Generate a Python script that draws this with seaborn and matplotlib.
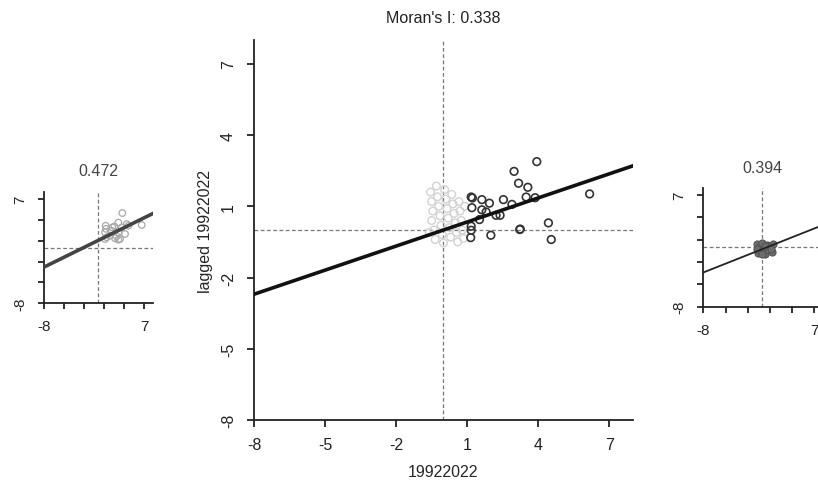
import matplotlib
matplotlib.use("Agg")
import matplotlib.pyplot as plt
import seaborn as sns
import pandas as pd

# ---------------- data ----------------
ticks = [-8, -5, -2, 1, 4, 7]
small_tick_labels = ["-8", "", "", "", "", "7"]

main_title = "Moran's I: 0.338"
main_xlabel = "19922022"
main_ylabel = "lagged 19922022"
main_slope = 0.338
main_intercept = 0.0

# highlighted (dark) points in the main plot
main_dark_x = [3.94, 2.98, 3.17, 3.56, 3.49, 3.87, 6.17, 1.17, 1.22, 1.62, 1.94, 2.53,
               2.89, 1.20, 1.62, 1.80, 2.22, 2.39, 1.52, 1.17, 1.17, 1.15, 2.00, 3.24,
               3.22, 4.43, 4.55]
main_dark_y = [2.88, 2.47, 1.97, 1.80, 1.39, 1.36, 1.52, 1.39, 1.35, 1.28, 1.13, 1.28,
               1.08, 0.94, 0.85, 0.76, 0.62, 0.62, 0.44, 0.16, -0.01, -0.32, -0.22, 0.04,
               0.02, 0.30, -0.40]

# faint (unselected) points in the main plot
main_faint_x = [-0.55, -0.50, -0.45, -0.50, -0.40, -0.35, -0.30, -0.25, -0.20, -0.15,
                -0.10, -0.05, 0.00, 0.05, 0.10, 0.15, 0.20, 0.25, 0.30, 0.35, 0.40,
                0.45, 0.50, 0.55, 0.60, 0.65, 0.70, 0.75, 0.80, 0.85, -0.60, 0.90]
main_faint_y = [1.60, 1.20, 0.80, 0.40, 0.00, -0.40, 1.85, 1.40, 1.00, 0.60, 0.20,
                -0.20, -0.55, 1.70, 1.30, 0.90, 0.50, 0.10, -0.30, 1.50, 1.10, 0.70,
                0.30, -0.10, -0.50, 1.20, 0.80, 0.40, 0.00, -0.35, -0.10, 1.00]

left_title = "0.472"
left_slope = 0.472
left_intercept = 1.0
left_x = [3.69, 3.10, 4.35, 6.60, 1.20, 2.50, 4.60, 1.10, 2.10, 3.10, 3.60, 1.35,
          2.60, 3.35, 1.85, 4.10, 2.85, 1.10, 3.10, 1.25, 2.20]
left_y = [4.97, 3.60, 3.39, 3.25, 3.15, 3.06, 3.15, 2.20, 2.43, 2.20, 2.90, 1.48,
          1.34, 1.24, 1.71, 1.96, 1.63, 1.24, 1.14, 2.70, 2.90]

right_title = "0.394"
right_slope = 0.394
right_intercept = -0.25
right_x = [-0.8, -0.6, -0.4, -0.2, 0.0, 0.2, 0.4, 0.6, 0.8, 1.0, 1.3, 1.4, -0.7,
           0.3, 1.1, -0.1]
right_y = [0.4, -0.8, 0.1, -0.5, 0.5, -0.2, -0.9, 0.3, -0.4, 0.2, -0.7, 0.4, -0.3,
           0.2, -0.2, -0.9]

# ---------------- style ----------------
sns.set_style("ticks")
plt.rcParams["font.family"] = ["Liberation Sans", "DejaVu Sans"]
plt.rcParams["axes.edgecolor"] = "#222222"
plt.rcParams["xtick.color"] = "#222222"
plt.rcParams["ytick.color"] = "#222222"
plt.rcParams["text.color"] = "#222222"

fig = plt.figure(figsize=(8.18, 4.81), dpi=100)
fig.patch.set_facecolor("white")

ax_main = fig.add_axes([0.3105, 0.1247, 0.4633, 0.790])
ax_left = fig.add_axes([0.0542, 0.3674, 0.1333, 0.2314])
ax_right = fig.add_axes([0.8598, 0.3603, 0.1447, 0.2476])


def setup(ax, xmax, labels, fs, tick_len, lw):
    ax.set_xlim(-8, xmax)
    ax.set_ylim(-8, 8)
    ax.set_xticks(ticks)
    ax.set_yticks(ticks)
    ax.set_xticklabels(labels, fontsize=fs)
    ax.set_yticklabels(labels, fontsize=fs, rotation=90, va="center")
    ax.tick_params(axis="x", direction="out", length=tick_len, width=lw, pad=7)
    ax.tick_params(axis="y", direction="out", length=tick_len, width=lw, pad=8)
    for s in ["top", "right"]:
        ax.spines[s].set_visible(False)
    for s in ["left", "bottom"]:
        ax.spines[s].set_linewidth(lw)
    ax.set_facecolor("white")
    ax.axvline(0, color="#777777", lw=0.9, ls=(0, (3, 2)), zorder=1)
    ax.axhline(0, color="#777777", lw=0.9, ls=(0, (3, 2)), zorder=1)


# ---------------- main panel ----------------
setup(ax_main, 8, [str(t) for t in ticks], 11.5, 5, 1.3)
df_faint = pd.DataFrame({"x": main_faint_x, "y": main_faint_y})
sns.scatterplot(data=df_faint, x="x", y="y", ax=ax_main, s=30, marker="o",
                fc="none", ec="#d2d2d2", linewidth=1.0, zorder=2)
df_dark = pd.DataFrame({"x": main_dark_x, "y": main_dark_y})
sns.scatterplot(data=df_dark, x="x", y="y", ax=ax_main, s=30, marker="o",
                fc="none", ec="#333333", linewidth=1.2, zorder=3)
line_x = [-8, 8]
df_line = pd.DataFrame({"x": line_x,
                        "y": [main_slope * v + main_intercept for v in line_x]})
sns.lineplot(data=df_line, x="x", y="y", ax=ax_main, color="#111111", lw=2.6, zorder=4)
ax_main.set_title(main_title, fontsize=11.5, pad=13)
ax_main.set_xlabel(main_xlabel, fontsize=11.5, labelpad=9)
ax_main.set_ylabel(main_ylabel, fontsize=11.5, labelpad=6)

# ---------------- left panel ----------------
setup(ax_left, 8.35, small_tick_labels, 11, 4.5, 1.3)
df_l = pd.DataFrame({"x": left_x, "y": left_y})
sns.scatterplot(data=df_l, x="x", y="y", ax=ax_left, s=22, marker="o",
                fc="none", ec="#a8a8a8", linewidth=0.9, zorder=2)
lx = [-8, 8.35]
df_ll = pd.DataFrame({"x": lx, "y": [left_slope * v + left_intercept for v in lx]})
sns.lineplot(data=df_ll, x="x", y="y", ax=ax_left, color="#444444", lw=2.6, zorder=4)
ax_left.set_title(left_title, fontsize=11.5, pad=12, color="#444444")
ax_left.set_xlabel("")
ax_left.set_ylabel("")

# ---------------- right panel ----------------
setup(ax_right, 8, small_tick_labels, 11, 4.5, 1.3)
df_r = pd.DataFrame({"x": right_x, "y": right_y})
sns.scatterplot(data=df_r, x="x", y="y", ax=ax_right, s=26, marker="o",
                fc="#6e6e6e", ec="#555555", linewidth=0.8, zorder=2)
rx = [-8, 8]
df_rl = pd.DataFrame({"x": rx, "y": [right_slope * v + right_intercept for v in rx]})
sns.lineplot(data=df_rl, x="x", y="y", ax=ax_right, color="#222222", lw=1.3, zorder=4)
ax_right.set_title(right_title, fontsize=11.5, pad=11, color="#444444")
ax_right.set_xlabel("")
ax_right.set_ylabel("")

fig.savefig("out.png", dpi=100)
